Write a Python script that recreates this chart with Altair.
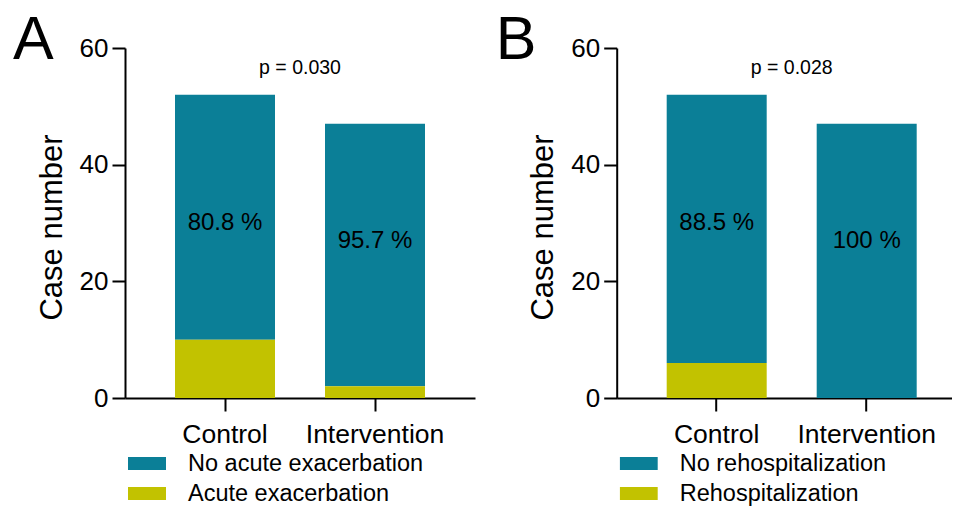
import altair as alt
import pandas as pd

FONT = "Liberation Sans"

groups = ["Control", "Intervention"]
y_ticks = [0, 20, 40, 60]
colors = ["#0B7F97", "#C2C200"]

# Panel A
a_letter = "A"
a_outcomes = ["No acute exacerbation", "Acute exacerbation"]
a_no_event = [42, 45]
a_event = [10, 2]
a_pct = ["80.8 %", "95.7 %"]
a_pct_y = [30, 27]
a_p = "p = 0.030"

# Panel B
b_letter = "B"
b_outcomes = ["No rehospitalization", "Rehospitalization"]
b_no_event = [46, 47]
b_event = [6, 0]
b_pct = ["88.5 %", "100 %"]
b_pct_y = [30, 27]
b_p = "p = 0.028"

p_y = 55.5


def panel(letter, letter_x, outcomes, no_event, event, pct, pct_y, ptxt, width, x_scale):
    bars = pd.DataFrame({
        "group": groups * 2,
        "outcome": [outcomes[0]] * 2 + [outcomes[1]] * 2,
        "count": no_event + event,
        "rank": [1, 1, 0, 0],
    })
    pct_df = pd.DataFrame({"group": groups, "count": pct_y, "label": pct})
    p_df = pd.DataFrame({"group": [groups[0]], "count": [p_y], "label": [ptxt]})
    letter_df = pd.DataFrame({"label": [letter]})

    x = alt.X("group:N", sort=groups, scale=x_scale,
              axis=alt.Axis(title=None, labelAngle=0, labelPadding=10, labelFontSize=26.5))
    y = alt.Y("count:Q", stack="zero",
              scale=alt.Scale(domain=[0, 60], nice=False),
              axis=alt.Axis(values=y_ticks, title="Case number", labelPadding=4,
                            titleX=-64, titleY=179, titleAngle=270,
                            titleBaseline="alphabetic", titleAlign="center"))
    color = alt.Color("outcome:N",
                      scale=alt.Scale(domain=outcomes, range=colors),
                      legend=alt.Legend(title=None, orient="none", legendX=3, legendY=400.6,
                                        direction="vertical",
                                        symbolType="M-1,-0.342H1V0.342H-1Z",
                                        symbolSize=1444, symbolStrokeWidth=0,
                                        symbolOpacity=1,
                                        labelFontSize=23.5, labelFont=FONT,
                                        labelColor="black", labelOffset=22,
                                        labelLimit=500,
                                        clipHeight=30, rowPadding=0, padding=0))
    bar = alt.Chart(bars).mark_bar().encode(
        x=x, y=y, color=color, order=alt.Order("rank:Q"))

    pct_text = alt.Chart(pct_df).mark_text(
        font=FONT, fontSize=24, color="black", baseline="middle"
    ).encode(x=alt.X("group:N", sort=groups), y=alt.Y("count:Q"), text="label:N")

    p_text = alt.Chart(p_df).mark_text(
        font=FONT, fontSize=19.5, color="black", baseline="alphabetic", dx=75
    ).encode(x=alt.X("group:N", sort=groups), y=alt.Y("count:Q"), text="label:N")

    letter_text = alt.Chart(letter_df).mark_text(
        font=FONT, fontSize=61, color="black", baseline="alphabetic", align="left"
    ).encode(x=alt.value(letter_x), y=alt.value(11.3), text="label:N")

    return alt.layer(bar, pct_text, p_text, letter_text).properties(width=width, height=350)


pA = panel(a_letter, -112, a_outcomes, a_no_event, a_event, a_pct, a_pct_y, a_p, 350,
           alt.Scale(domain=groups, paddingInner=1 / 3, paddingOuter=1 / 3))
pB = panel(b_letter, -121, b_outcomes, b_no_event, b_event, b_pct, b_pct_y, b_p, 335,
           alt.Scale(domain=groups, paddingInner=1 / 3, paddingOuter=0.28333, align=0.5882))

chart = alt.hconcat(pA, pB, spacing=141.7, bounds="flush").resolve_scale(
    color="independent", x="independent", y="independent"
).resolve_legend(color="independent").properties(
    padding={"left": 5, "top": 2, "right": 0, "bottom": 0}
).configure_view(stroke=None).configure_axis(
    grid=False, domainColor="black", domainWidth=2, tickColor="black", tickWidth=2,
    tickSize=13, labelColor="black", labelFont=FONT, labelFontSize=26,
    titleFont=FONT, titleColor="black", titleFontSize=31, titleFontWeight="normal"
)

chart.save("out.html", embed_options={"renderer": "svg", "actions": False})
